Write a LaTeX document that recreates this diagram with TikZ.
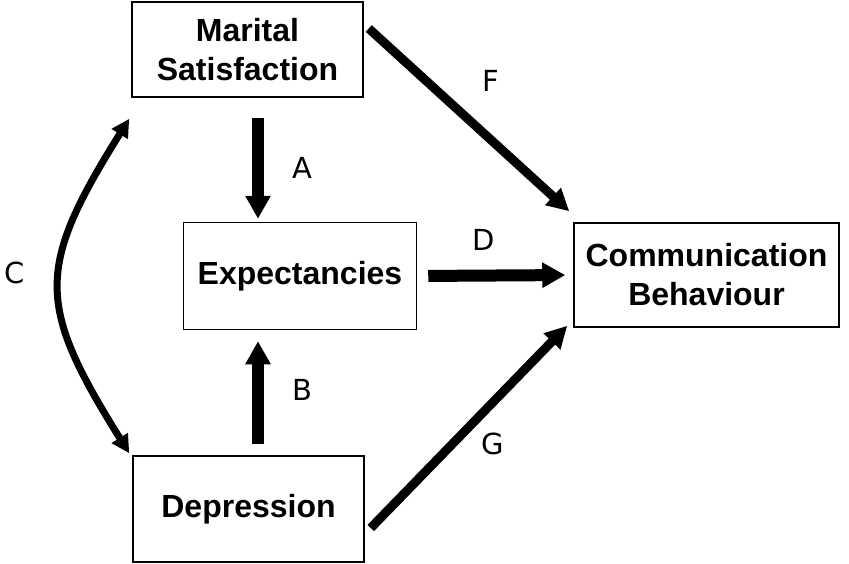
\documentclass[tikz,border=0pt]{standalone}
\usepackage{fontspec}
\setmainfont{Liberation Sans}
\newfontfamily\letterfont{DejaVu Sans}
\usetikzlibrary{arrows.meta}
\tikzset{box/.style={draw, line width=1.5pt, align=center, inner sep=0pt,
  font=\bfseries\fontsize{32}{39}\selectfont}}
\tikzset{bigarrow/.style={line width=12pt, -{Triangle[length=23pt,width=24pt]}}}
\tikzset{slimarrow/.style={line width=9pt, -{Triangle[length=22pt,width=22pt]}}}
\tikzset{letter/.style={font=\letterfont\fontsize{29}{34}\selectfont}}

\begin{document}
\begin{tikzpicture}[x=1pt, y=-1pt]
      \useasboundingbox (0, 0) rectangle (849, 563);

      \node [box, minimum width=231, minimum height=95] (marital) at (247.5, 49.5) {Marital\\Satisfaction};
      \node [box, minimum width=233, minimum height=107] (expect) at (300, 276) {Expectancies};
      \node [box, minimum width=265, minimum height=104] (comm) at (706.5, 275) {Communication\\Behaviour};
      \node [box, minimum width=231, minimum height=106] (depr) at (248.5, 509) {Depression};

      \draw [bigarrow, shorten <=20pt, shorten >=3pt] (marital.south -| 258, 0) -- (expect.north -| 258, 0);
      \draw [bigarrow, shorten <=11pt, shorten >=11pt] (depr.north -| 258, 0) -- (expect.south -| 258, 0);
      \draw [bigarrow, shorten <=11pt, shorten >=8pt] (expect.east) -- (comm.west);
      \draw [slimarrow] ([xshift=5pt, yshift=21pt]marital.east) -- ([xshift=-4pt, yshift=11pt]comm.north west);
      \draw [slimarrow] ([xshift=6pt, yshift=-19pt]depr.east) -- ([xshift=-6pt, yshift=2pt]comm.south west);
      \draw [line width=7pt, {Triangle[length=18pt,width=18pt]}-{Triangle[length=18pt,width=18pt]}]
        ([xshift=-2pt, yshift=-21pt]marital.south west) .. controls (36, 268) and (36, 304) .. ([xshift=-3pt, yshift=2pt]depr.north west);

      \node [letter] (labA) at (302, 168) {A};
      \node [letter] (labB) at (302, 390) {B};
      \node [letter] (labC) at (15, 273) {C};
      \node [letter] (labD) at (484, 240) {D};
      \node [letter] (labF) at (491, 81) {F};
      \node [letter] (labG) at (493, 444) {G};
    \end{tikzpicture}
\end{document}
